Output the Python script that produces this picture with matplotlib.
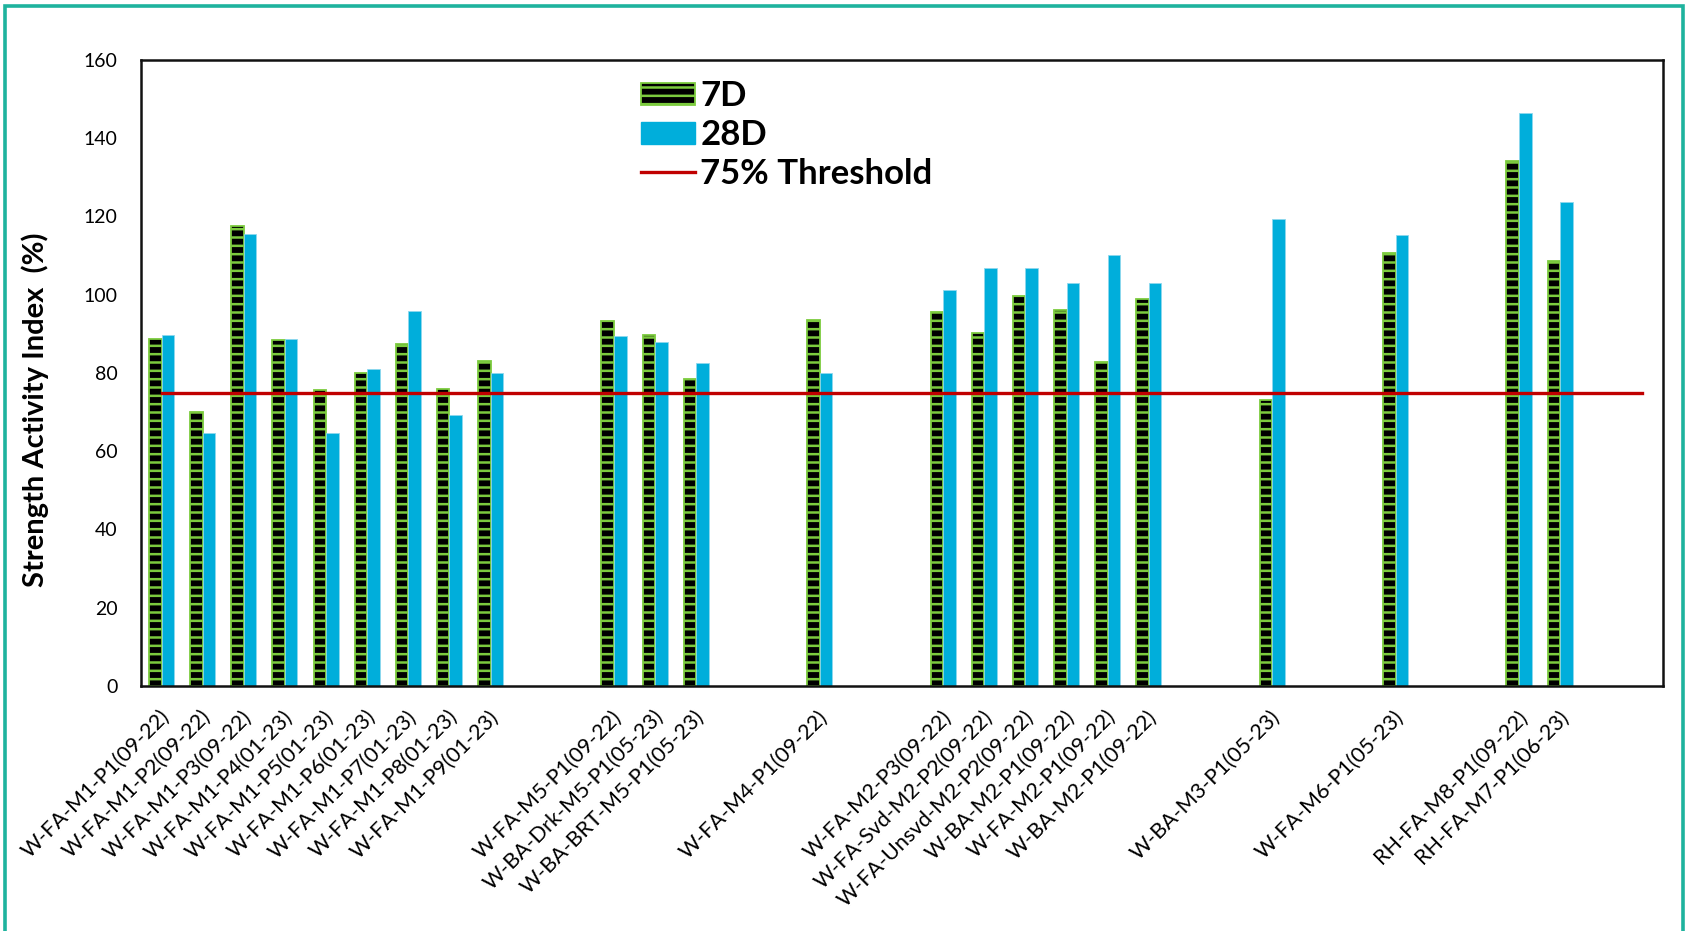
import numpy as np
import matplotlib
matplotlib.use("Agg")
import matplotlib.pyplot as plt
from matplotlib.patches import Patch, Rectangle
from matplotlib.lines import Line2D

#----- Data -----
# Empty strings / NaN are spacer slots between the mix groups
labels = [
	"W-FA-M1-P1(09-22)", "W-FA-M1-P2(09-22)", "W-FA-M1-P3(09-22)", "W-FA-M1-P4(01-23)",
	"W-FA-M1-P5(01-23)", "W-FA-M1-P6(01-23)", "W-FA-M1-P7(01-23)", "W-FA-M1-P8(01-23)",
	"W-FA-M1-P9(01-23)", "", "",
	"W-FA-M5-P1(09-22)", "W-BA-Drk-M5-P1(05-23)", "W-BA-BRT-M5-P1(05-23)", "", "",
	"W-FA-M4-P1(09-22)", "", "",
	"W-FA-M2-P3(09-22)", "W-FA-Svd-M2-P2(09-22)", "W-FA-Unsvd-M2-P2(09-22)",
	"W-BA-M2-P1(09-22)", "W-FA-M2-P1(09-22)", "W-BA-M2-P1(09-22)", "", "",
	"W-BA-M3-P1(05-23)", "", "",
	"W-FA-M6-P1(05-23)", "", "",
	"RH-FA-M8-P1(09-22)", "RH-FA-M7-P1(06-23)", "", "",
]
nan = np.nan
sai_7d = [
	88.7, 70.0, 117.6, 88.4, 75.7, 80.0, 87.5, 75.8, 83.0, nan, nan,
	93.4, 89.7, 78.5, nan, nan,
	93.6, nan, nan,
	95.7, 90.3, 99.7, 96.1, 82.9, 99.0, nan, nan,
	73.2, nan, nan,
	110.6, nan, nan,
	134.1, 108.6, nan, nan,
]
sai_28d = [
	89.6, 64.6, 115.4, 88.6, 64.7, 81.1, 95.9, 69.2, 80.0, nan, nan,
	89.4, 88.0, 82.6, nan, nan,
	80.1, nan, nan,
	101.3, 106.9, 106.7, 103.0, 110.2, 103.0, nan, nan,
	119.4, nan, nan,
	115.3, nan, nan,
	146.4, 123.8, nan, nan,
]
threshold = 75

#----- Plot graph -----
plt.rcParams.update({ "font.family":"Lato", "hatch.linewidth":1.8 })
fig = plt.figure( figsize=(16.88,9.31), dpi=100 )
ax = fig.add_axes( [0.0835, 0.2632, 0.9017, 0.6724] )

x = np.arange( len(labels) )
w = 0.305
green = "#7CCB3E"
blue = "#00AEDB"
red = "#C00000"

ax.bar( x - w/2, sai_7d, w, color="black", edgecolor=green, hatch="--", linewidth=1.3, zorder=2 )
ax.bar( x + w/2, sai_28d, w, color=blue, edgecolor="#8ED8EE", linewidth=0.6, zorder=2 )
ax.plot( x, [threshold]*len(x), color=red, linewidth=2.4, zorder=3 )

ax.set_xlim( -0.5, len(labels) - 0.5 )
ax.set_ylim( 0, 160 )
ax.set_yticks( range(0, 161, 20) )
ax.tick_params( axis="y", length=0, pad=17, labelsize=14 )
ax.tick_params( axis="x", length=0, pad=20 )
ax.set_xticks( x + 0.12 )
ax.set_xticklabels( labels, rotation=45, ha="right", va="center", rotation_mode="anchor", fontsize=15.5 )
for s in ax.spines.values():
	s.set_linewidth( 1.8 )
	s.set_color( "#111111" )

fig.text( 0.021, 0.56, "Strength Activity Index  (%)", rotation=90, ha="center", va="center",
	fontsize=21, fontweight="bold" )

handles = [
	Patch( facecolor="black", edgecolor=green, hatch="--", linewidth=1.3 ),
	Patch( facecolor=blue, edgecolor=blue ),
	Line2D( [0], [0], color=red, linewidth=2.4 ),
]
leg = fig.legend( handles, [ "7D", "28D", "75% Threshold" ], loc="upper left",
	bbox_to_anchor=(0.380, 0.914), frameon=False, borderpad=0, borderaxespad=0,
	handlelength=1.55, handleheight=0.6, handletextpad=0.15, labelspacing=0.2,
	prop={ "size":25, "weight":"bold" } )

# teal frame round the whole chart
fig.patches.append( Rectangle( (5/1688, -0.05), 1678/1688, 1.05 - 6/931, transform=fig.transFigure,
	fill=False, edgecolor="#1EB39E", linewidth=2.6 ) )

plt.savefig( "out.png", dpi=100 )
